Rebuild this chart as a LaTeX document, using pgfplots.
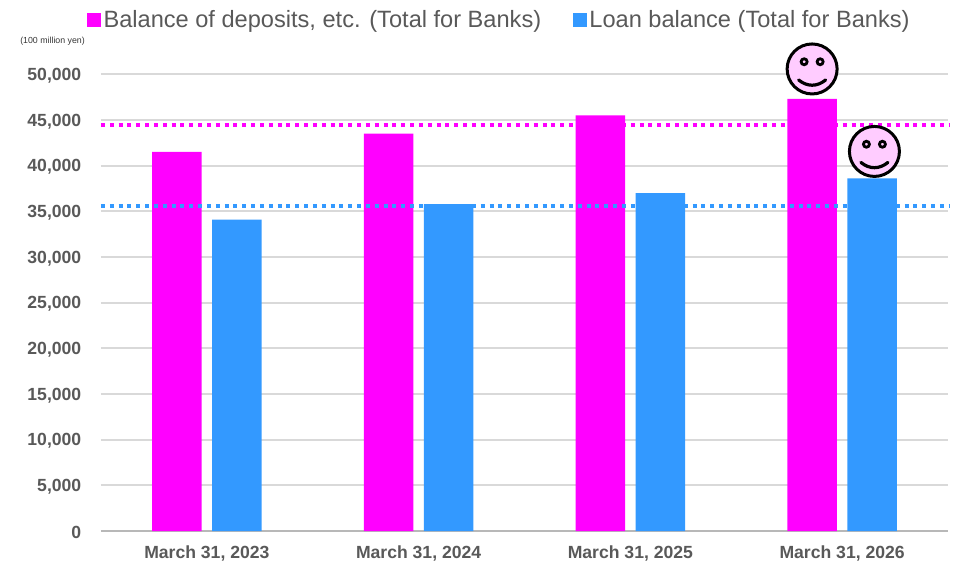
\documentclass[border=0pt]{standalone}
\usepackage{pgfplots}
\pgfplotsset{compat=1.18}
\usetikzlibrary{calc}
\usepackage{fontspec}
\setmainfont{Liberation Sans}
\definecolor{deposit}{HTML}{FF00FF}
\definecolor{loan}{HTML}{3399FF}
\definecolor{textgrey}{HTML}{595959}
\definecolor{gridgrey}{HTML}{D9D9D9}
\definecolor{facepink}{HTML}{FFCCFF}
\newcommand{\px}{0.75pt}
% Smiling face, sized in device pixels around the given point
\newcommand{\smiley}[1]{%
  \begin{scope}[shift={(#1)},x=\px,y=\px,line width=3*\px,black]
    \filldraw[fill=facepink] (0,0) circle (25);
    \filldraw[fill=facepink,line width=2.8*\px] (-8,7.2) circle (3);
    \filldraw[fill=facepink,line width=2.8*\px] (8,7.2) circle (3);
    \draw[line cap=round,line width=3.2*\px] (-13.5,-11) .. controls (-5,-18) and (5,-18) .. (13.5,-11);
  \end{scope}}
\begin{document}
\begin{tikzpicture}[x=1pt,y=1pt]
\path[use as bounding box] (-101*\px,-30*\px) rectangle (863*\px,531*\px);
\begin{axis}[
  at={(0,0)}, anchor=south west,
  scale only axis,
  width=847*\px, height=456.7*\px,
  xmin=-0.5, xmax=3.5, ymin=0, ymax=50000,
  clip=false,
  axis x line=bottom, axis y line=left,
  axis line style={-},
  y axis line style={draw=none},
  x axis line style={draw=gridgrey!85!black, line width=1.8*\px},
  major tick length=0pt,
  xtick={0,1,2,3},
  xticklabels={{March 31, 2023},{March 31, 2024},{March 31, 2025},{March 31, 2026}},
  ytick={0,5000,...,50000},
  scaled y ticks=false,
  ymajorgrids,
  major grid style={draw=gridgrey, line width=2*\px},
  /pgf/number format/assume math mode=true,
  /pgf/number format/fixed,
  /pgf/number format/1000 sep={,},
  ticklabel style={font=\fontsize{13.2pt}{15pt}\selectfont\bfseries, text=textgrey},
  yticklabel style={xshift=-15*\px, yshift=-1.5*\px},
  xticklabel style={yshift=-10*\px},
  legend columns=2,
  legend cell align=left,
  legend style={
    draw=none, fill=none,
    font=\fontsize{17.7pt}{20pt}\selectfont,
    text=textgrey,
    inner sep=0pt, outer sep=0pt,
    /tikz/every even column/.append style={column sep=29*\px},
    at={(axis cs:-0.5,50000)},anchor=west,xshift=-14*\px,yshift=54.2*\px,
  },
  legend image code/.code={\fill[#1] (0pt,-5.2pt) rectangle (10.4pt,5.2pt);},
]
\addplot[ybar, bar width=49.5*\px, bar shift=-30*\px, fill=deposit, draw=none]
  coordinates {(0,41500) (1,43500) (2,45500) (3,47300)};
\addlegendentry{Balance of deposits, etc. (Total for Banks)}
\addplot[ybar, bar width=49.5*\px, bar shift=30*\px, fill=loan, draw=none]
  coordinates {(0,34100) (1,35800) (2,37000) (3,38600)};
\addlegendentry{Loan balance (Total for Banks)}
% Reference levels across the whole plot
\addplot[forget plot, deposit, line width=4*\px, dash pattern=on 4*\px off 4.83*\px]
  coordinates {(-0.5,44450) (3.51,44450)};
\addplot[forget plot, loan, line width=4*\px, dash pattern=on 4*\px off 4.83*\px]
  coordinates {(-0.5,35600) (3.51,35600)};
\coordinate (topdeposit) at (axis cs:3,47300);
\coordinate (toploan) at (axis cs:3,38600);
\coordinate (topleft) at (axis cs:-0.5,50000);
\end{axis}
\smiley{$(topdeposit)+(-30*\px,30*\px)$}
\smiley{$(toploan)+(32.3*\px,27*\px)$}
\node[anchor=west, text=textgrey!60!black, font=\fontsize{6.6pt}{7pt}\selectfont, inner sep=0pt]
  at ($(topleft)+(-81*\px,33*\px)$) {(100 million yen)};
\end{tikzpicture}
\end{document}
